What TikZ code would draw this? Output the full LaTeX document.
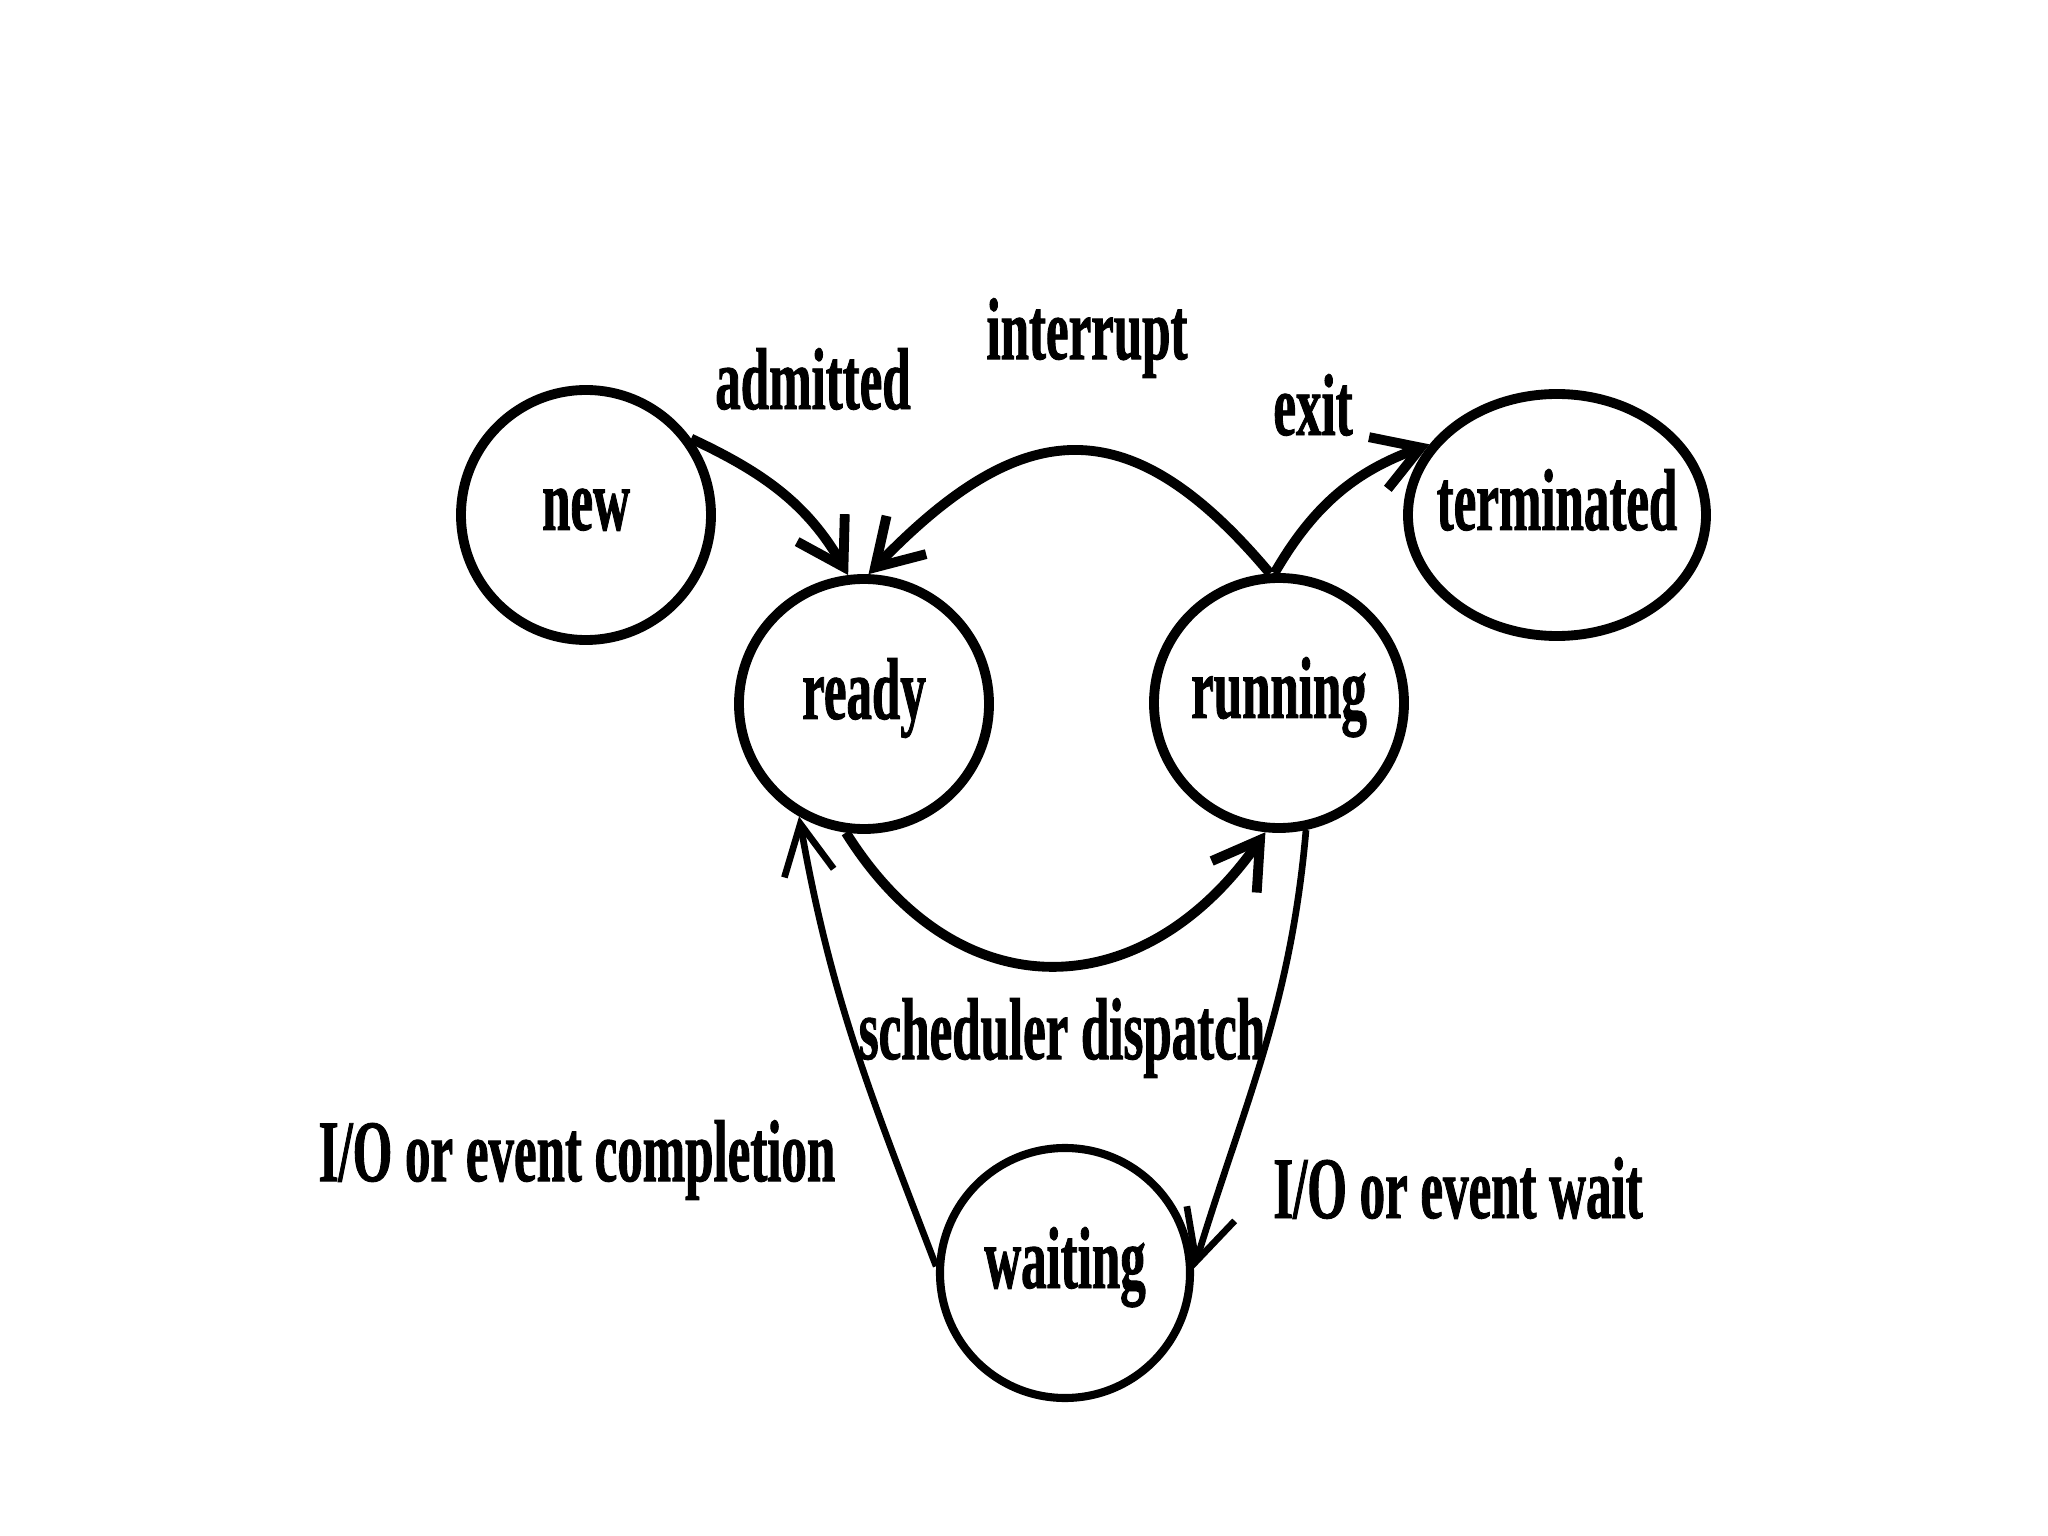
\documentclass[tikz,border=0pt]{standalone}
\usepackage{fontspec}
\newfontfamily\labelfont[FakeStretch=0.58, FakeBold=1]{Liberation Serif}
\usetikzlibrary{shapes, arrows.meta}

\begin{document}
\begin{tikzpicture}[
    textfont/.style={font=\labelfont\bfseries\fontsize{25}{30}\selectfont},
    state/.style={draw, circle, line width=2.8pt, minimum size=2.5cm, inner sep=0pt, text height=0.5cm, text depth=0.2cm, textfont},
    lbl/.style={inner sep=0pt, textfont},
    trans/.style={line width=2.8pt, -{Straight Barb[length=4.5mm, width=5.5mm]}},
    waittrans/.style={line width=1.9pt, -{Straight Barb[length=5mm, width=5mm]}}
]
            \useasboundingbox (0,0) rectangle (20.48,-15.36);
            \node[state] (new) at (5.86,-5.15) {new};
            \node[state] (ready) at (8.64,-7.04) {ready};
            \node[state] (running) at (12.79,-7.03) {running};
            \node[draw, ellipse, line width=2.8pt, minimum width=2.98cm, minimum height=2.42cm, inner xsep=-0.2cm, inner ysep=0pt, text height=0.5cm, text depth=0.2cm, textfont] (terminated) at (15.57,-5.15) {terminated};
            \node[state, line width=2.3pt] (waiting) at (10.65,-12.73) {waiting};

            \node[lbl] (admitted) at (8.13,-3.79) {admitted};
            \node[lbl] (interrupt) at (10.87,-3.38) {interrupt};
            \node[lbl] (exit) at (13.13,-4.05) {exit};
            \node[lbl] (dispatch) at (10.62,-10.38) {scheduler dispatch};
            \node[lbl] (completion) at (5.77,-11.60) {I/O or event completion};
            \node[lbl] (eventwait) at (14.58,-11.88) {I/O or event wait};

            \draw[trans] (new.36) to[out=-25, in=120] (ready.97);
            \draw[trans] (running.94) to[out=130, in=46, looseness=1.4] (ready.88);
            \draw[trans] (running.92) to[out=60, in=200] (terminated.151);
            \draw[trans] (ready.262) to[out=-58, in=-125, looseness=1.3] (running.264);
            \draw[waittrans] (running.282) to[out=-95, in=73] (waiting.2);
            \draw[waittrans] (waiting.177) to[out=111, in=-80] (ready.240);
        \end{tikzpicture}
\end{document}
